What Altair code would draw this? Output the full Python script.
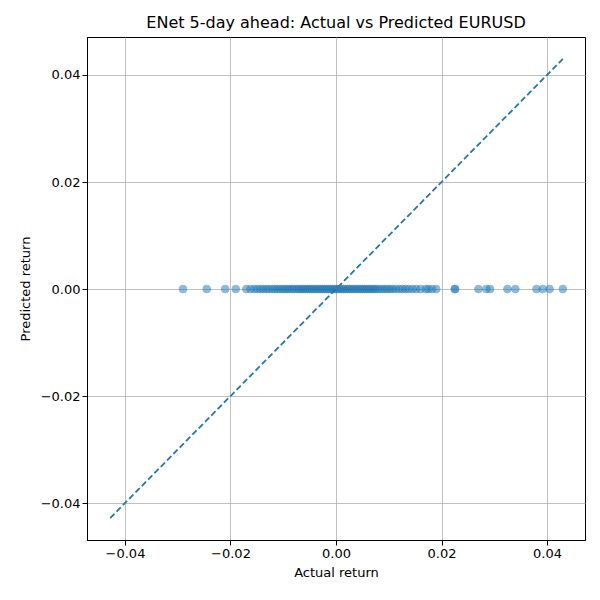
import altair as alt
import pandas as pd

# actual 5-day returns (predicted all ~0 by the ENet model)
actual = [-0.029, -0.0245, -0.021, -0.019, -0.017, -0.0162, -0.0155, -0.0149, -0.0143,
          -0.0138, -0.0132, -0.0127, -0.0121, -0.0116, -0.0111, -0.0106, -0.0101, -0.0097,
          -0.0092, -0.0088, -0.0083, -0.0079, -0.0074, -0.0070, -0.0066, -0.0062, -0.0058,
          -0.0054, -0.0050, -0.0046, -0.0042, -0.0038, -0.0034, -0.0030, -0.0026, -0.0022,
          -0.0018, -0.0014, -0.0010, -0.0006, -0.0002, 0.0002, 0.0006, 0.0010, 0.0014,
          0.0018, 0.0022, 0.0026, 0.0030, 0.0034, 0.0038, 0.0042, 0.0046, 0.0050, 0.0054,
          0.0058, 0.0062, 0.0066, 0.0070, 0.0074, 0.0078, 0.0083, 0.0088, 0.0093, 0.0098,
          0.0103, 0.0108, 0.0114, 0.0120, 0.0126, 0.0132, 0.0138, 0.0145, 0.0152, 0.0160,
          0.0170, 0.0175, 0.0182, 0.019, 0.0225, 0.0226, 0.027, 0.0285, 0.0292, 0.0325,
          0.034, 0.038, 0.0392, 0.0405, 0.043]
predicted = [0.0] * len(actual)
diag = [-0.0428, 0.043]

pts = pd.DataFrame({"Actual": actual, "Predicted": predicted})
line = pd.DataFrame({"Actual": diag, "Predicted": diag})

lab = "replace(format(datum.value, '.2f'), '-', '\u2212')"
xs = alt.X("Actual:Q", title="Actual return", scale=alt.Scale(domain=[-0.0472, 0.0472], nice=False, zero=False),
           axis=alt.Axis(values=[-0.04, -0.02, 0, 0.02, 0.04], labelExpr=lab, titlePadding=6))
ys = alt.Y("Predicted:Q", title="Predicted return", scale=alt.Scale(domain=[-0.0469, 0.0471], nice=False, zero=False),
           axis=alt.Axis(values=[-0.04, -0.02, 0, 0.02, 0.04], labelExpr=lab, titlePadding=8))

scatter = alt.Chart(pts).mark_point(filled=True, size=60, opacity=0.5, color="#1f77b4",
                                    stroke="#1f77b4", strokeWidth=1, shape="circle").encode(x=xs, y=ys)
dashed = alt.Chart(line).mark_line(strokeDash=[6, 3], color="#1f77b4", strokeWidth=1.8).encode(x=xs, y=ys)

chart = (scatter + dashed).properties(
    width=498, height=503, autosize=alt.AutoSizeParams(type="none"),
    padding={"left": 79, "top": 29, "right": 7, "bottom": 52},
    title=alt.Title("ENet 5-day ahead: Actual vs Predicted EURUSD", fontSize=16, fontWeight="normal", font="DejaVu Sans", offset=6)
).configure_axis(
    grid=True, gridColor="#b0b0b0", gridWidth=0.8, domainColor="black", tickColor="black",
    labelFont="DejaVu Sans", titleFont="DejaVu Sans", labelFontSize=13, titleFontSize=13,
    titleFontWeight="normal", labelColor="black", titleColor="black", tickSize=5
).configure_view(stroke="black", strokeWidth=1)

chart.save("out.html", embed_options={"renderer": "svg", "actions": False})
